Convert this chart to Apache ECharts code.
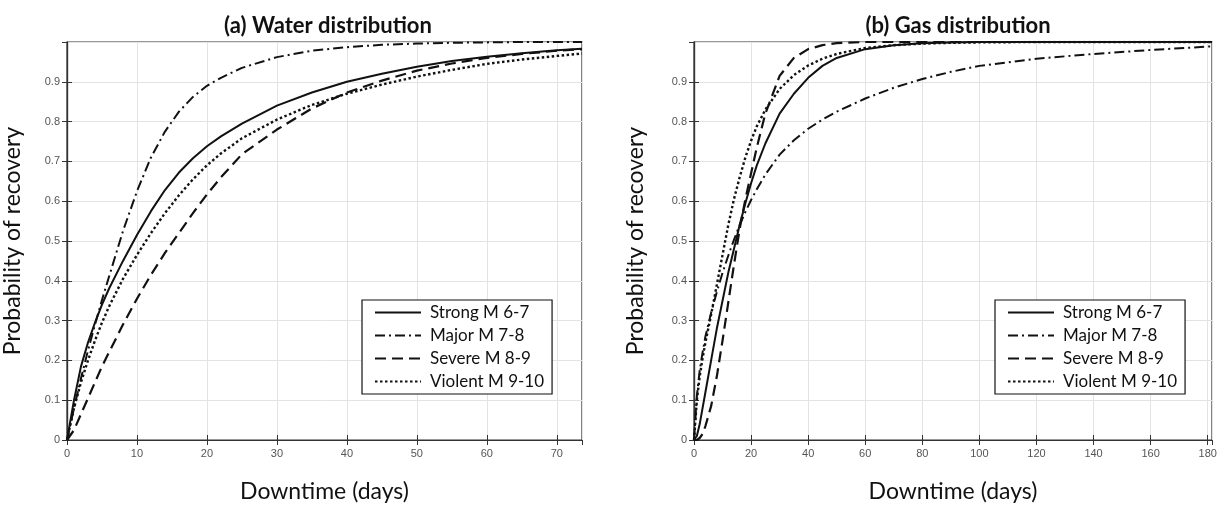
<!DOCTYPE html>
<html>
<head>
<meta charset="utf-8">
<script src="https://cdn.jsdelivr.net/npm/echarts@6/dist/echarts.min.js"></script>
<style>
html,body{margin:0;padding:0;background:#fff;}
#chart{width:1224px;height:508px;}
</style>
</head>
<body>
<div id="chart"></div>
<script>
// ---------- DATA ----------
const seriesNames = ['Strong M 6-7', 'Major M 7-8', 'Severe M 8-9', 'Violent M 9-10'];
const panelTitles = ['(a) Water distribution', '(b) Gas distribution'];
const xAxisName = 'Downtime (days)';
const yAxisName = 'Probability of recovery';

// (a) Water distribution
const waterDays    = [0, 1, 2, 3, 4, 5, 6, 8, 10, 12, 14, 16, 18, 20, 22, 25, 30, 35, 40, 45, 50, 55, 60, 65, 70, 73.6];
const waterStrong  = [0, .10, .185, .245, .295, .34, .38, .45, .515, .575, .628, .672, .708, .738, .763, .795, .84, .873, .90, .92, .938, .952, .963, .972, .979, .983];
const waterMajor   = [0, .08, .155, .225, .29, .352, .41, .525, .625, .71, .775, .825, .862, .89, .91, .935, .962, .978, .987, .993, .996, .998, .999, 1, 1, 1];
const waterSevere  = [0, .025, .065, .105, .145, .185, .22, .29, .355, .415, .47, .52, .57, .617, .66, .718, .78, .833, .873, .903, .928, .946, .96, .97, .978, .982];
const waterViolent = [0, .08, .145, .20, .25, .295, .335, .405, .465, .52, .57, .615, .655, .69, .72, .758, .805, .842, .87, .893, .913, .93, .945, .956, .965, .971];

// (b) Gas distribution
const gasDays    = [0, 1, 2, 3, 4, 6, 8, 10, 12, 14, 16, 18, 20, 22, 25, 30, 35, 40, 45, 50, 60, 70, 80, 90, 100, 120, 140, 160, 181.5];
const gasStrong  = [0, .01, .04, .08, .12, .20, .28, .35, .42, .48, .54, .595, .645, .69, .745, .82, .87, .91, .94, .96, .982, .992, .997, .999, 1, 1, 1, 1, 1];
const gasMajor   = [0, .11, .175, .22, .26, .32, .372, .42, .463, .503, .54, .573, .603, .63, .667, .717, .753, .782, .805, .825, .858, .885, .907, .925, .94, .958, .97, .98, .989];
const gasSevere  = [0, 0, .005, .015, .035, .085, .16, .25, .345, .44, .53, .605, .67, .735, .82, .915, .96, .982, .992, .997, 1, 1, 1, 1, 1, 1, 1, 1, 1];
const gasViolent = [0, .10, .16, .205, .245, .315, .39, .465, .54, .605, .66, .71, .752, .788, .83, .882, .917, .941, .958, .97, .985, .992, .996, .998, .999, 1, 1, 1, 1];

const xMax = [73.6, 181.5];
const xInterval = [10, 20];

// ---------- CHART ----------
const lineTypes = ['solid', [10, 4, 2, 4], [11, 6], [2.5, 2.5]];
const lineWidths = [2, 2, 2.2, 2.4];
const pair = (xs, ys) => xs.map((x, i) => [x, ys[i]]);

const panels = [
  {days: waterDays, ys: [waterStrong, waterMajor, waterSevere, waterViolent]},
  {days: gasDays, ys: [gasStrong, gasMajor, gasSevere, gasViolent]}
];

const grids = [
  {left: 65, right: 642, top: 42, bottom: 57},
  {left: 694, right: 12, top: 42, bottom: 57}
];

const tickFont = {fontFamily: 'Liberation Sans, Arial, sans-serif', fontSize: 11, color: '#555'};
const nameFont = {fontFamily: 'Lato, sans-serif', fontSize: 23, color: '#111'};

const xAxes = [], yAxes = [], series = [];
grids.forEach((g, gi) => {
  g.show = true; g.borderColor = '#333'; g.borderWidth = 1.2; g.containLabel = false;
  xAxes.push({
    type: 'value', gridIndex: gi, min: 0, max: xMax[gi], interval: xInterval[gi],
    name: xAxisName, nameLocation: 'middle', nameGap: 40, nameTextStyle: nameFont,
    axisLine: {show: true, lineStyle: {color: '#333', width: 1.2}},
    axisTick: {show: true, inside: true, length: 5, lineStyle: {color: '#333'}},
    axisLabel: Object.assign({showMaxLabel: false, margin: 8}, tickFont),
    splitLine: {show: true, lineStyle: {color: '#e3e3e3', width: 1}}
  });
  xAxes.push({
    type: 'value', gridIndex: gi, position: 'top', min: 0, max: xMax[gi], interval: xInterval[gi],
    axisLine: {show: true, lineStyle: {color: '#333', width: 1.2}},
    axisTick: {show: true, inside: true, length: 5, lineStyle: {color: '#333'}},
    axisLabel: {show: false}, splitLine: {show: false}
  });
  yAxes.push({
    type: 'value', gridIndex: gi, min: 0, max: 1, interval: 0.1,
    name: yAxisName, nameLocation: 'middle', nameGap: gi === 0 ? 43 : 47, nameTextStyle: nameFont,
    axisLine: {show: true, lineStyle: {color: '#333', width: 1.2}},
    axisTick: {show: true, inside: true, length: 5, lineStyle: {color: '#333'}},
    axisLabel: Object.assign({showMaxLabel: false, margin: 7}, tickFont),
    splitLine: {show: true, lineStyle: {color: '#e3e3e3', width: 1}}
  });
  yAxes.push({
    type: 'value', gridIndex: gi, position: 'right', min: 0, max: 1, interval: 0.1,
    axisLine: {show: true, lineStyle: {color: '#333', width: 1.2}},
    axisTick: {show: true, inside: true, length: 5, lineStyle: {color: '#333'}},
    axisLabel: {show: false}, splitLine: {show: false}
  });
  panels[gi].ys.forEach((ys, si) => {
    series.push({
      name: seriesNames[si], type: 'line', xAxisIndex: gi * 2, yAxisIndex: gi * 2,
      data: pair(panels[gi].days, ys), symbol: 'none', showSymbol: false,
      smooth: false, silent: true, animation: false,
      lineStyle: {color: '#111', width: lineWidths[si], type: lineTypes[si], join: 'round'},
      itemStyle: {color: '#111'}, z: 10 - si
    });
  });
});

const legendBase = {
  orient: 'vertical', top: 300, data: seriesNames,
  itemWidth: 46, itemHeight: 14, itemGap: 2,
  padding: [2, 8, 2, 12],
  backgroundColor: '#fff', borderColor: '#111', borderWidth: 1.2,
  itemStyle: {opacity: 0},
  textStyle: {fontFamily: 'Lato, sans-serif', fontSize: 17, color: '#111', lineHeight: 21, padding: [0, 0, 0, 4]},
  selectedMode: false
};

const titleFont = {fontFamily: 'Lato, sans-serif', fontWeight: 'bold', fontSize: 22, color: '#111'};

const option = {
  backgroundColor: '#fff',
  animation: false,
  title: [
    {text: panelTitles[0], left: 323, top: 10, textAlign: 'center', textStyle: titleFont},
    {text: panelTitles[1], left: 953, top: 10, textAlign: 'center', textStyle: titleFont}
  ],
  grid: grids,
  xAxis: xAxes,
  yAxis: yAxes,
  legend: [
    Object.assign({}, legendBase, {left: 362}),
    Object.assign({}, legendBase, {left: 995})
  ],
  series: series
};

const chart = echarts.init(document.getElementById('chart'), null, {renderer: 'canvas'});
chart.setOption(option);
</script>
</body>
</html>
